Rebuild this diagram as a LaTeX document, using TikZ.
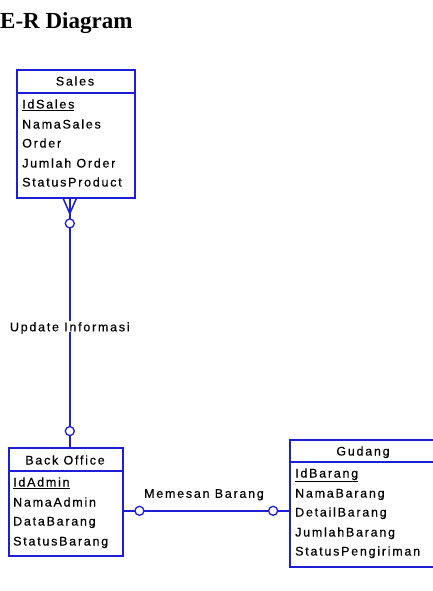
\documentclass[tikz,border=0pt]{standalone}
\usepackage{fontspec}
\setmainfont{Liberation Serif}
\newfontfamily\erfont[LetterSpace=14,FakeBold=0.4]{Liberation Sans}
\definecolor{erblue}{RGB}{30,30,214}
\begin{document}
\begin{tikzpicture}[x=1pt,y=-1pt,
  entity/.style={draw=erblue, line width=1.6pt, rectangle, inner sep=0pt, anchor=north west},
  hdrline/.style={draw=erblue, line width=1.2pt},
  hdr/.style={font=\erfont\fontsize{12.5}{14}\selectfont, inner sep=0pt, text height=9pt, text depth=0pt},
  attr/.style={font=\erfont\fontsize{12.5}{14}\selectfont, inner sep=0pt, anchor=west, text height=9pt, text depth=0pt},
  rel/.style={draw=erblue, line width=1.5pt},
  opt/.style={circle, draw=erblue, line width=1.3pt, fill=white, inner sep=0pt, minimum size=9pt},
  lbl/.style={font=\erfont\fontsize{12.5}{14}\selectfont, inner sep=1pt, fill=white, text height=9pt, text depth=0pt}
]
\useasboundingbox (0,0) rectangle (433,591);
\clip (0,0) rectangle (433,591);
\fill[white] (0,0) rectangle (433,591);

\node[anchor=base west, inner sep=0pt, font=\bfseries\fontsize{23}{26}\selectfont] (title) at (0,29) {E-R Diagram};

% Sales
\node[entity, minimum width=118pt, minimum height=128pt] (sales) at (16,69) {};
\draw[hdrline] (16,93) -- (134,93);
\node[hdr] (salesT) at (75,81) {Sales};
\node[attr] (s1) at (22,104) {\underline{IdSales}};
\node[attr] (s2) at (22,124) {NamaSales};
\node[attr] (s3) at (22,143) {Order};
\node[attr] (s4) at (22,163) {Jumlah Order};
\node[attr] (s5) at (22,182) {StatusProduct};

% Back Office
\node[entity, minimum width=114pt, minimum height=108pt] (bo) at (8,447) {};
\draw[hdrline] (8,471) -- (122,471);
\node[hdr] (boT) at (65,460) {Back Office};
\node[attr] (b1) at (13,482) {\underline{IdAdmin}};
\node[attr] (b2) at (13,502) {NamaAdmin};
\node[attr] (b3) at (13,521) {DataBarang};
\node[attr] (b4) at (13,541) {StatusBarang};

% Gudang
\node[entity, minimum width=160pt, minimum height=127pt] (gd) at (289,439) {};
\draw[hdrline] (289,462) -- (449,462);
\node[hdr] (gdT) at (363,451) {Gudang};
\node[attr] (g1) at (295,473) {\underline{IdBarang}};
\node[attr] (g2) at (295,493) {NamaBarang};
\node[attr] (g3) at (295,512) {DetailBarang};
\node[attr] (g4) at (295,532) {JumlahBarang};
\node[attr] (g5) at (295,551) {StatusPengiriman};

% Sales -- Back Office
\coordinate (sf) at ([xshift=-6pt]sales.south);
\coordinate (bf) at ([xshift=4pt]bo.north);
\draw[rel] (sf) -- (bf);
\coordinate (cfj) at ([yshift=-15pt]sf);
\draw[rel] ([xshift=-6.5pt]sf) -- (cfj) -- ([xshift=6.5pt]sf);
\path (sf) -- (bf)
  node[opt, pos=0.1] (c1) {}
  node[lbl, pos=0.516] (l1) {Update Informasi}
  node[opt, pos=0.936] (c2) {};

% Back Office -- Gudang
\coordinate (bm) at ([yshift=-9pt]bo.east);
\coordinate (gm) at (bm -| gd.west);
\draw[rel] (bm) -- (gm);
\path (bm) -- (gm)
  node[opt, pos=0.096] (c3) {}
  node[opt, pos=0.904] (c4) {};
\node[lbl, fill=none, anchor=south] (l2) at (204,499) {Memesan Barang};
\end{tikzpicture}
\end{document}
